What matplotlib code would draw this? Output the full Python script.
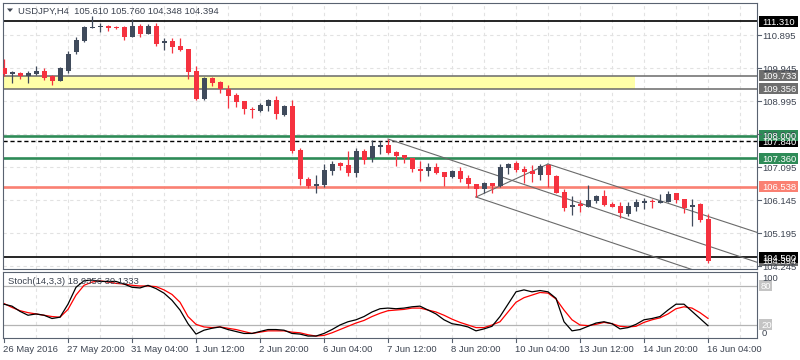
import matplotlib
matplotlib.use("Agg")
import matplotlib.pyplot as plt
from matplotlib.patches import Rectangle, Polygon
import numpy as np

plt.rcParams['font.family'] = ['Liberation Sans', 'DejaVu Sans']

symbol_title = "USDJPY,H4  105.610 105.760 104.348 104.394"
stoch_title = "Stoch(14,3,3) 18.9356 30.1333"

opens = [109.955, 109.783, 109.811, 109.725, 109.783, 109.869, 109.725, 109.581, 109.869, 110.417,
         110.734, 111.108, 111.137, 111.166, 111.137, 111.137, 110.849, 111.166, 110.935, 111.166,
         110.676, 110.734, 110.590, 110.503, 109.869, 109.062, 109.667, 109.552, 109.350, 109.177,
         109.004, 108.774, 108.716, 108.860, 109.033, 108.601, 108.860, 107.592, 106.757, 106.555,
         106.584, 106.987, 107.218, 107.160, 106.929, 107.563, 107.362, 107.679, 107.736, 107.535,
         107.448, 107.362, 107.045, 106.987, 107.102, 106.958, 106.814, 106.987, 106.785, 106.612,
         106.468, 106.641, 106.555, 107.074, 107.218, 107.045, 106.987, 106.872, 107.160, 106.843,
         106.382, 105.949, 106.036, 105.949, 106.122, 106.266, 106.036, 105.978, 105.748, 105.949,
         106.065, 106.122, 106.065, 106.094, 106.353, 106.180, 105.949, 106.036, 105.610]
highs = [110.215, 109.869, 109.840, 109.869, 110.013, 109.955, 109.754, 109.984, 110.445, 110.849,
         111.166, 111.454, 111.252, 111.195, 111.166, 111.166, 111.368, 111.224, 111.224, 111.252,
         110.820, 110.820, 110.820, 110.510, 110.013, 109.696, 109.696, 109.581, 109.466, 109.235,
         109.010, 108.832, 108.947, 109.062, 109.149, 108.889, 109.033, 107.650, 106.814, 106.872,
         107.189, 107.275, 107.246, 107.563, 107.650, 107.621, 107.880, 107.860, 107.909, 107.563,
         107.460, 107.370, 107.275, 107.218, 107.218, 106.970, 107.016, 107.102, 106.872, 106.620,
         106.670, 106.650, 107.189, 107.218, 107.275, 107.131, 107.160, 107.189, 107.189, 106.872,
         106.468, 106.266, 106.151, 106.584, 106.295, 106.439, 106.094, 106.094, 106.094, 106.180,
         106.209, 106.180, 106.324, 106.411, 106.360, 106.190, 106.180, 106.065, 105.760]
lows = [109.725, 109.523, 109.638, 109.523, 109.754, 109.610, 109.466, 109.570, 109.811, 110.359,
        110.705, 111.100, 110.993, 111.022, 111.079, 110.762, 110.840, 110.849, 110.930, 110.590,
        110.474, 110.388, 110.445, 109.638, 109.033, 109.033, 109.437, 109.235, 108.803, 108.832,
        108.630, 108.514, 108.687, 108.716, 108.486, 108.572, 107.506, 106.584, 106.497, 106.353,
        106.526, 106.872, 107.016, 106.843, 106.814, 107.189, 107.246, 107.477, 107.490, 107.131,
        107.218, 106.958, 106.699, 106.843, 106.901, 106.555, 106.785, 106.670, 106.497, 106.238,
        106.353, 106.353, 106.526, 106.901, 106.958, 106.641, 106.670, 106.728, 106.526, 106.340,
        105.834, 105.719, 105.805, 105.940, 106.065, 105.978, 105.940, 105.632, 105.690, 105.834,
        105.892, 105.921, 106.060, 106.090, 106.065, 105.776, 105.402, 105.517, 104.348]
closes = [109.783, 109.840, 109.725, 109.811, 109.869, 109.667, 109.581, 109.955, 110.359, 110.762,
          111.137, 111.137, 111.166, 111.108, 111.108, 110.849, 111.166, 110.935, 111.166, 110.647,
          110.734, 110.561, 110.474, 109.840, 109.062, 109.667, 109.523, 109.350, 109.149, 108.976,
          108.774, 108.745, 108.889, 109.033, 108.630, 108.860, 107.563, 106.757, 106.555, 106.612,
          107.016, 107.189, 107.131, 106.929, 107.563, 107.304, 107.708, 107.736, 107.506, 107.419,
          107.362, 107.045, 106.987, 107.102, 106.929, 106.814, 106.987, 106.757, 106.612, 106.468,
          106.641, 106.555, 107.102, 107.189, 107.016, 106.958, 106.901, 107.131, 106.872, 106.353,
          105.921, 106.007, 105.978, 106.151, 106.266, 106.007, 105.949, 105.776, 105.978, 106.094,
          106.122, 106.094, 106.122, 106.324, 106.151, 105.921, 106.007, 105.575, 104.394]

stoch_k = [52, 49, 41, 35, 37, 35, 30, 32, 52, 78,
           88, 89, 87, 87, 87, 83, 78, 77, 81, 76,
           69, 58, 43, 22, 6, 12, 15, 17, 13, 10,
           7, 7, 10, 13, 13, 12, 7, 6, 3, 3,
           7, 13, 20, 25, 28, 33, 40, 45, 46, 45,
           46, 48, 49, 43, 37, 28, 22, 20, 17, 11,
           14, 18, 33, 52, 71, 74, 71, 73, 71, 61,
           25, 11, 13, 18, 23, 25, 22, 14, 16, 21,
           28, 30, 33, 43, 52, 52, 41, 30, 18.9356]
stoch_d = [53, 47, 42, 39, 37, 35, 33, 32, 44, 66,
           81, 86, 88, 86, 84, 83, 81, 80, 80, 79,
           74, 67, 55, 33, 21, 17, 16, 17, 15, 13,
           10, 7, 9, 11, 11, 11, 9, 8, 5, 3,
           4, 8, 13, 18, 23, 27, 33, 38, 42, 43,
           44, 46, 46, 43, 40, 35, 29, 24, 20, 16,
           16, 20, 25, 40, 55, 62, 66, 70, 69, 60,
           43, 28, 20, 19, 21, 24, 22, 18, 17, 18,
           24, 28, 31, 37, 45, 48, 46, 39, 30.1333]

price_ticks = [110.895, 109.945, 108.995, 108.045, 107.095, 106.145, 105.195, 104.245]
time_label_bars = [0, 8, 16, 24, 32, 40, 48, 56, 64, 72, 80, 88]
time_labels = ["26 May 2016", "27 May 20:00", "31 May 04:00", "1 Jun 12:00", "2 Jun 20:00",
               "6 Jun 04:00", "7 Jun 12:00", "8 Jun 20:00", "10 Jun 04:00", "13 Jun 12:00",
               "14 Jun 20:00", "16 Jun 04:00"]

level_top = 111.310
zone_top, zone_bottom = 109.733, 109.356
zone_end_bar = 78.9
green_levels = [108.000, 107.360]
dashed_level = 107.840
salmon_level = 106.538
level_bottom = 104.500
last_price = 104.394

# trend lines: (bar0, price0, bar1, price1)
trend_lines = [(48, 107.909, 94.1, 104.359),
               (68, 107.189, 94.1, 105.220),
               (59, 106.238, 94.1, 103.520),
               (59, 106.238, 68, 107.189)]

BULL = '#404b5c'
BEAR = '#f5323f'
GREEN = '#2e8b57'
SALMON = '#fa8072'
GREYBOX = '#6e6e6e'
TXT = '#3c4350'
SPINE = '#596270'
GRID = '#e2e2e2'

W, H = 800, 360
fig = plt.figure(figsize=(8, 3.6), dpi=100)


def fr(x0, y0, x1, y1):
    return [x0 / W, 1 - y1 / H, (x1 - x0) / W, (y1 - y0) / H]


ax = fig.add_axes(fr(3, 3, 757, 269))
sx = fig.add_axes(fr(3, 272, 757, 338))
ov = fig.add_axes([0, 0, 1, 1])
ov.set_xlim(0, W)
ov.set_ylim(H, 0)
ov.axis('off')
ov.set_zorder(10)

n = len(opens)
xs = np.arange(n)
for a in (ax, sx):
    a.set_xlim(-0.125, 94.125)
    a.set_xticks([])
    a.set_yticks([])
    for s in a.spines.values():
        s.set_color(SPINE)
        s.set_linewidth(0.8)
ax.set_ylim(104.163, 111.829)
sx.set_ylim(0, 101.5)

# grid
grid_bars = np.arange(4, 94, 4)
for a in (ax, sx):
    a.vlines(grid_bars, *a.get_ylim(), colors=GRID, linestyles=(0, (3, 3)), lw=0.8, zorder=0)
ax.hlines(price_ticks, -0.125, 94.125, colors=GRID, linestyles=(0, (3, 3)), lw=0.8, zorder=0)

# zone
ax.add_patch(Rectangle((-0.125, zone_bottom), zone_end_bar + 0.125, zone_top - zone_bottom,
                       fc='#ffffa8', ec='none', zorder=1))
ax.axhline(zone_top, color='#6a6a6a', lw=1.1, zorder=2)
ax.axhline(zone_bottom, color='#6a6a6a', lw=1.1, zorder=2)
ax.axhline(level_top, color='black', lw=1.2, zorder=2)
ax.axhline(level_bottom, color='black', lw=1.2, zorder=2)
for g in green_levels:
    ax.axhline(g, color=GREEN, lw=1.9, zorder=2)
ax.axhline(dashed_level, color='black', lw=1.0, ls=(0, (3, 2)), zorder=2)
ax.axhline(salmon_level, color=SALMON, lw=1.9, zorder=2)

for b0, p0, b1, p1 in trend_lines:
    ax.plot([b0, b1], [p0, p1], color='#6a6a6a', lw=0.8, zorder=2)

# candles
o = np.array(opens); c = np.array(closes); hi = np.array(highs); lo = np.array(lows)
cols = [BULL if cc >= oo else BEAR for oo, cc in zip(o, c)]
ax.vlines(xs, lo, hi, colors=cols, lw=0.9, zorder=3)
bot = np.minimum(o, c)
hgt = np.maximum(np.abs(c - o), 0.035)
ax.bar(xs, hgt, bottom=bot, width=0.625, color=cols, edgecolor='none', zorder=4)

# stochastic
sx.axhline(80, color='#b4b4b4', lw=0.9, zorder=1)
sx.axhline(20, color='#b4b4b4', lw=0.9, zorder=1)
sx.plot(xs, stoch_k, color='black', lw=0.9, zorder=3)
sx.plot(xs, stoch_d, color='#ff0000', lw=0.9, zorder=2)


def pyv(a, v):
    return H - a.transData.transform((0, v))[1]


def pxb(a, b):
    return a.transData.transform((b, 0))[0]


FS = 6.8
# price tick labels
for p in price_ticks:
    y = pyv(ax, p)
    ov.plot([757, 761], [y, y], color=SPINE, lw=0.8)
    ov.text(762, y, f"{p:.3f}", fontsize=FS, color=TXT, va='center_baseline', ha='left')


def boxlabel(y, text, fc, tc='white'):
    ov.add_patch(Rectangle((759, y - 5.5), 39, 11, fc=fc, ec='none'))
    ov.text(762, y, text, fontsize=FS, color=tc, va='center_baseline', ha='left')


boxlabel(pyv(ax, last_price), f"{last_price:.3f}", GREYBOX)
boxlabel(pyv(ax, level_top), f"{level_top:.3f}", 'black')
boxlabel(pyv(ax, zone_top), f"{zone_top:.3f}", GREYBOX)
boxlabel(pyv(ax, zone_bottom), f"{zone_bottom:.3f}", GREYBOX)
boxlabel(pyv(ax, dashed_level), f"{dashed_level:.3f}", 'black')
for g in green_levels:
    boxlabel(pyv(ax, g), f"{g:.3f}", GREEN)
boxlabel(pyv(ax, salmon_level), f"{salmon_level:.3f}", SALMON)
boxlabel(pyv(ax, level_bottom), f"{level_bottom:.3f}", 'black')

# stoch labels
ov.text(762, pyv(sx, 100) + 5, "100", fontsize=FS, color=TXT, va='center_baseline', ha='left')
ov.text(762, pyv(sx, 0) - 5, "0", fontsize=FS, color=TXT, va='center_baseline', ha='left')
for lv in (80, 20):
    y = pyv(sx, lv)
    ov.add_patch(Rectangle((759, y - 5.5), 13, 11, fc='#c4c4c4', ec='none'))
    ov.text(761, y, str(lv), fontsize=FS, color='white', va='center_baseline', ha='left')

# time labels
for b, t in zip(time_label_bars, time_labels):
    x = pxb(sx, b)
    ov.plot([x, x], [338, 342], color=SPINE, lw=0.8)
    ov.text(x - 1, 348, t, fontsize=FS, color=TXT, va='center_baseline', ha='left')

# titles
ov.add_patch(Polygon([(7, 8.5), (13, 8.5), (10, 12)], closed=True, fc=TXT, ec='none'))
ov.text(18, 10.5, symbol_title, fontsize=FS, color=TXT, va='center_baseline', ha='left')
ov.text(7.5, 280, stoch_title, fontsize=FS, color=TXT, va='center_baseline', ha='left')

fig.savefig("out.png", dpi=100)
